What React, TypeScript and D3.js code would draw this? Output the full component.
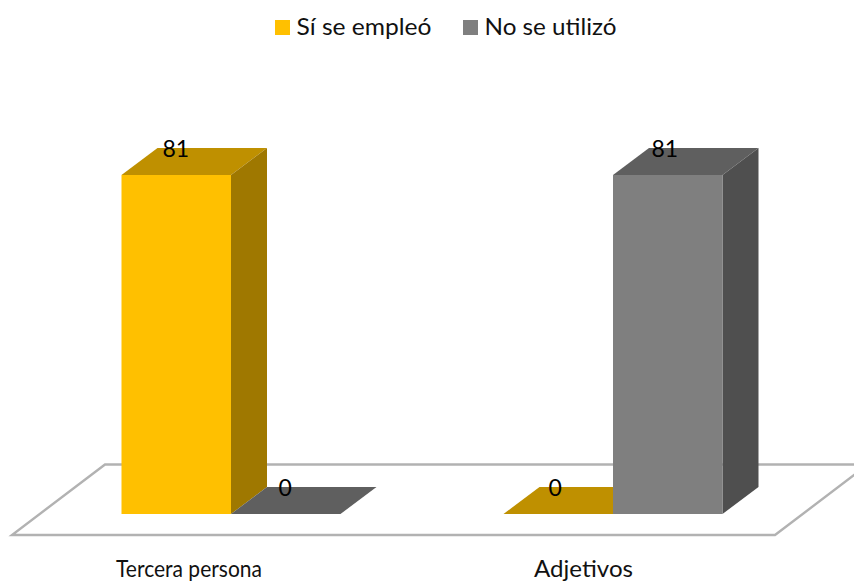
import React from "react";
import * as d3 from "d3";

const categories = ["Tercera persona", "Adjetivos"];
const seriesNames = ["Sí se empleó", "No se utilizó"];
const siSeEmpleo = [81, 0];
const noSeUtilizo = [0, 81];
const seriesValues = [siSeEmpleo, noSeUtilizo];
const frontColors = ["#FFC000", "#7F7F7F"];
const sideColors = ["#9F7800", "#505050"];
const topColors = ["#BF9000", "#5F5F5F"];

const W = 854, H = 581;
const FONT = "Lato, Carlito, 'Open Sans', sans-serif";
const DX = 36, DY = -27;

export default function App() {
  const x0 = d3.scalePoint<string>().domain(categories).range([231, 613]);
  const x1 = d3.scaleBand<string>().domain(seriesNames).range([-109.5, 109.5]).padding(0);
  const y = d3.scaleLinear().domain([0, 81]).range([514, 175]);
  const base = y(0);
  const bw = x1.bandwidth();
  const poly = (pts: number[][]) => d3.line()(pts as [number, number][]) + "Z";
  const floor = [[12, 535], [775, 535], [868, 464.5], [105, 464.5]];

  const bars = categories.flatMap((c, ci) =>
    seriesNames.map((s, si) => ({
      key: `${c}-${s}`, si, ci,
      v: seriesValues[si][ci],
      x: x0(c)! + x1(s)!,
      yTop: y(seriesValues[si][ci]),
    }))
  );

  const legend = [
    { sx: 275, tx: 296.5, len: 135 },
    { sx: 463, tx: 484.5, len: 132 },
  ];
  const catLabels = [
    { dx: -42, len: 146 },
    { dx: -29.5, len: 99 },
  ];

  return (
    <svg width={W} height={H} style={{ position: "absolute", left: 0, top: 0, background: "#fff" }} fontFamily={FONT}>
      <defs>
        <filter id="soft" x="-5%" y="-5%" width="110%" height="110%">
          <feGaussianBlur stdDeviation="0.45" />
        </filter>
      </defs>
      <path d={poly(floor)} fill="#fff" stroke="#B2B2B2" strokeWidth={2.4} filter="url(#soft)" />
      <g filter="url(#soft)">
        {bars.map((b) => (
          <g key={b.key}>
            <path d={poly([[b.x, b.yTop], [b.x + bw, b.yTop], [b.x + bw + DX, b.yTop + DY], [b.x + DX, b.yTop + DY]])} fill={topColors[b.si]} />
            {b.v > 0 && (
              <>
                <path d={poly([[b.x + bw, b.yTop], [b.x + bw + DX, b.yTop + DY], [b.x + bw + DX, base + DY], [b.x + bw, base]])} fill={sideColors[b.si]} />
                <rect x={b.x} y={b.yTop} width={bw} height={base - b.yTop} fill={frontColors[b.si]} />
              </>
            )}
          </g>
        ))}
      </g>
      {bars.map((b) => (
        <text key={b.key} x={b.x + bw / 2 - (b.ci === 0 ? 0.5 : 3)} y={b.yTop - 18.5} textAnchor="middle" fontSize={23} fill="#000">{b.v}</text>
      ))}
      {categories.map((c, i) => (
        <text key={c} x={x0(c)! + catLabels[i].dx} y={577} textAnchor="middle" fontSize={22.5} fill="#111"
          textLength={catLabels[i].len} lengthAdjust="spacingAndGlyphs">{c}</text>
      ))}
      {seriesNames.map((s, i) => (
        <g key={s}>
          <rect x={legend[i].sx} y={20} width={15} height={15} fill={frontColors[i]} />
          <text x={legend[i].tx} y={35} fontSize={22.5} fill="#111"
            textLength={legend[i].len} lengthAdjust="spacingAndGlyphs">{s}</text>
        </g>
      ))}
    </svg>
  );
}
